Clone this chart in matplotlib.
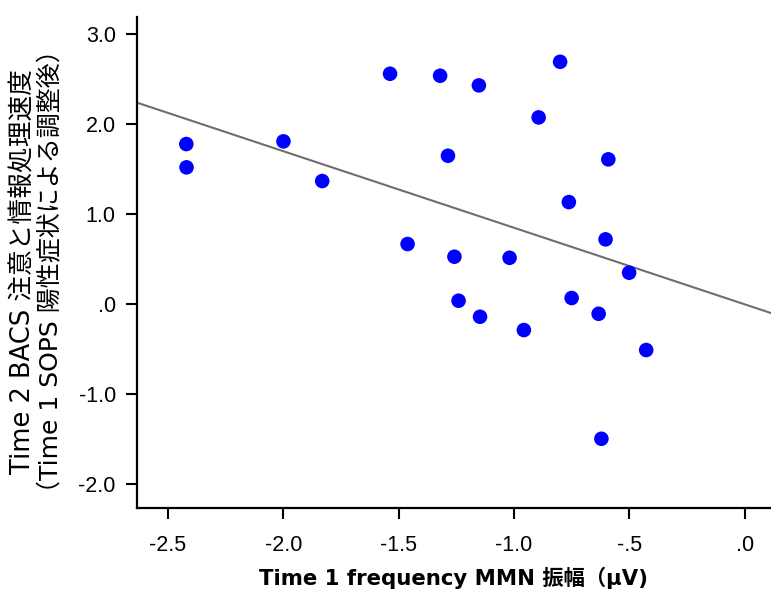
import numpy as np
import matplotlib
matplotlib.use('Agg')
import matplotlib.pyplot as plt

plt.rcParams['font.family'] = ['DejaVu Sans', 'Noto Sans CJK JP']

# MMN amplitude (time 1) vs adjusted BACS score (time 2)
mmn = [-2.420, -2.419, -1.999, -1.831, -1.537, -1.320, -1.152, -1.286,
       -0.893, -0.800, -0.591, -0.762, -1.461, -1.258, -1.019, -0.603,
       -0.501, -1.240, -1.147, -0.957, -0.750, -0.633, -0.427, -0.621]
bacs = [1.778, 1.519, 1.808, 1.367, 2.559, 2.537, 2.430, 1.648,
        2.074, 2.692, 1.608, 1.133, 0.667, 0.526, 0.514, 0.719,
        0.348, 0.037, -0.141, -0.289, 0.067, -0.108, -0.511, -1.497]

# regression line as shown in the figure
fit_slope = -0.851
fit_icpt = -0.003

xticks = [-2.5, -2.0, -1.5, -1.0, -0.5, 0.0]
xticklabels = ['-2.5', '-2.0', '-1.5', '-1.0', '-.5', '.0']
yticks = [-2.0, -1.0, 0.0, 1.0, 2.0, 3.0]
yticklabels = ['-2.0', '-1.0', '.0', '1.0', '2.0', '3.0']

fig = plt.figure(figsize=(7.71, 5.96), dpi=100)
ax = fig.add_axes([0.1773, 0.1471, 0.8227, 0.8244])

xmin, xmax = -2.635, 0.114
ax.set_xlim(xmin, xmax)
ax.set_ylim(-2.27, 3.19)

lx = np.array([xmin, xmax])
ax.plot(lx, fit_icpt + fit_slope * lx, color='#6e6e6e', lw=1.5, zorder=1)
ax.scatter(mmn, bacs, s=110, color='#0000ff', edgecolors='none', zorder=2)

for s in ['top', 'right']:
    ax.spines[s].set_visible(False)
for s in ['left', 'bottom']:
    ax.spines[s].set_linewidth(1.6)

ax.set_xticks(xticks)
ax.set_xticklabels(xticklabels)
ax.set_yticks(yticks)
ax.set_yticklabels(yticklabels)
ax.tick_params(direction='out', length=8, width=1.5, labelsize=15.5)
ax.tick_params(axis='x', pad=11)
ax.tick_params(axis='y', pad=7)
for lab in ax.get_xticklabels() + ax.get_yticklabels():
    lab.set_family('Liberation Sans')

ax.set_xlabel('Time 1 frequency MMN 振幅（μV)', fontsize=15.3, fontweight='bold', labelpad=8)
fig.text(0.031, 0.545, 'Time 2 BACS 注意と情報処理速度', rotation=90, fontsize=18.5,
         ha='center', va='center')
fig.text(0.066, 0.545, '（Time 1 SOPS 陽性症状による調整後）', rotation=90, fontsize=18,
         ha='center', va='center')

fig.savefig('out.png', dpi=100)
